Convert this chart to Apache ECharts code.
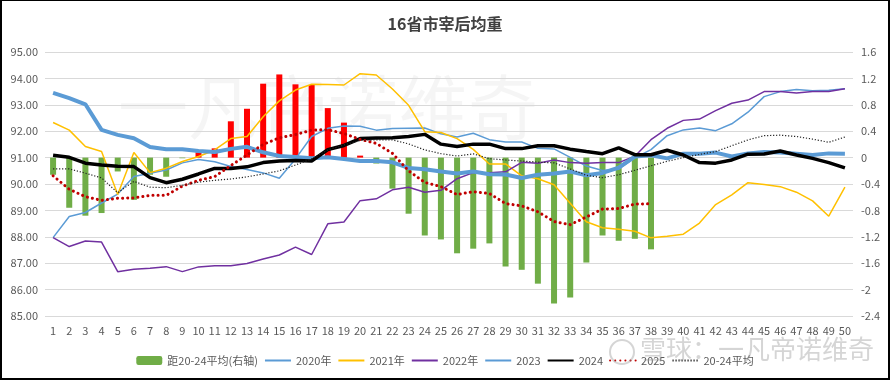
<!DOCTYPE html>
<html><head><meta charset="utf-8">
<script src="https://cdn.jsdelivr.net/npm/echarts@6/dist/echarts.min.js"></script>
<style>
html,body{margin:0;padding:0;background:#fff;}
#wrap{position:relative;width:890px;height:380px;}
#c{position:absolute;left:0;top:0;width:890px;height:380px;}
#frame{position:absolute;left:0;top:0;width:890px;height:380px;box-sizing:border-box;border:1px solid #000;border-left-width:2px;border-bottom-width:2px;border-right-width:2px;pointer-events:none;}
</style></head>
<body><div id="wrap"><div id="c"></div><div id="frame"></div></div>
<script>
const categories = ['1','2','3','4','5','6','7','8','9','10','11','12','13','14','15','16','17','18','19','20','21','22','23','24','25','26','27','28','29','30','31','32','33','34','35','36','37','38','39','40','41','42','43','44','45','46','47','48','49','50'];
const leftTicks = [85, 95, 1];
const rightTicks = [-2.4, 1.6, 0.4];

const diff2024 = [-0.26,-0.76,-0.88,-0.84,-0.21,-0.64,-0.26,-0.29,-0.01,0.08,0.14,0.55,0.74,1.12,1.26,1.11,1.10,0.75,0.53,0.03,-0.09,-0.47,-0.85,-1.18,-1.24,-1.45,-1.38,-1.30,-1.65,-1.70,-1.91,-2.21,-2.12,-1.59,-1.18,-1.26,-1.23,-1.39];
const y2020 = [87.97,88.77,88.92,89.28,89.62,90.28,90.41,90.53,90.80,90.93,90.84,90.66,90.55,90.42,90.22,90.95,91.80,92.11,92.20,92.19,92.04,92.10,92.11,92.12,91.90,91.78,91.92,91.68,91.59,91.59,91.35,91.33,91.01,90.68,90.51,90.56,90.99,91.30,91.83,92.05,92.12,92.02,92.28,92.72,93.31,93.50,93.58,93.53,93.55,93.61];
const y2021 = [92.33,92.04,91.42,91.23,89.60,91.19,90.43,90.60,90.85,91.04,91.29,91.72,91.80,92.55,93.15,93.56,93.78,93.77,93.75,94.18,94.13,93.60,92.98,91.98,91.95,91.72,91.31,90.76,90.76,90.31,90.20,89.97,89.27,88.57,88.34,88.29,88.21,87.96,88.02,88.10,88.52,89.22,89.59,90.05,89.98,89.90,89.69,89.36,88.78,89.88];
const y2022 = [87.97,87.63,87.84,87.80,86.68,86.77,86.81,86.87,86.68,86.86,86.90,86.90,86.99,87.16,87.31,87.61,87.33,88.49,88.56,89.37,89.44,89.78,89.88,89.69,89.76,90.20,90.43,90.43,90.46,90.82,90.79,90.91,90.81,90.79,90.81,90.81,91.05,91.68,92.11,92.41,92.46,92.78,93.06,93.18,93.50,93.50,93.45,93.50,93.50,93.61];
const y2023 = [93.45,93.25,93.02,92.05,91.86,91.73,91.40,91.32,91.32,91.25,91.21,91.33,91.41,91.20,91.06,91.02,90.98,91.01,90.95,90.87,90.87,90.82,90.61,90.56,90.47,90.40,90.47,90.37,90.36,90.23,90.35,90.40,90.47,90.33,90.42,90.62,91.04,91.09,90.97,91.15,91.15,91.19,91.04,91.16,91.21,91.19,91.15,91.10,91.16,91.15];
const y2024 = [91.09,91.01,90.79,90.72,90.67,90.66,90.24,90.05,90.18,90.38,90.59,90.59,90.65,90.81,90.87,90.89,90.87,91.30,91.46,91.72,91.74,91.75,91.80,91.88,91.51,91.42,91.51,91.51,91.34,91.34,91.45,91.45,91.32,91.23,91.15,91.37,91.11,91.11,91.28,91.10,90.81,90.79,90.91,91.13,91.14,91.25,91.10,90.97,90.81,90.61];
const y2025 = [90.31,89.80,89.52,89.38,89.46,89.47,89.57,89.57,89.92,90.14,90.28,90.70,91.10,91.50,91.75,91.87,92.04,92.06,91.91,91.69,91.54,91.16,90.50,90.06,89.90,89.60,89.71,89.64,89.26,89.17,88.95,88.58,88.46,88.75,89.05,89.07,89.24,89.25];
const avg2024 = [90.57,90.57,90.41,90.23,89.67,90.10,89.88,89.86,89.95,90.07,90.14,90.19,90.27,90.38,90.50,90.72,90.95,91.29,91.48,91.65,91.67,91.67,91.52,91.29,91.15,91.06,91.14,90.96,90.91,90.87,90.83,90.80,90.57,90.33,90.24,90.35,90.52,90.69,90.86,91.00,91.12,91.23,91.45,91.67,91.83,91.85,91.80,91.70,91.58,91.78];
const barName = '距20-24平均(右轴)';
const lineNames = ['2020年','2021年','2022年','2023','2024','2025','20-24平均'];

const FONT = '"Noto Sans CJK SC","Noto Sans",sans-serif';
const chart = echarts.init(document.getElementById('c'), null, {renderer:'canvas'});
function lineSeries(name, data, color, width, type, cap){
  return {name, type:'line', data, yAxisIndex:0, symbol:'none', showSymbol:false,
    lineStyle:{color, width, type: type || 'solid', cap: cap || 'butt'}, itemStyle:{color}, z:3};
}
chart.setOption({
  animation:false,
  backgroundColor:'#fff',
  title:{text:'16省市宰后均重', left:'center', top:11,
    textStyle:{fontFamily:FONT, fontSize:16, fontWeight:'bold', color:'#404040'}},
  grid:{left:45, right:37, top:52, bottom:64},
  legend:{bottom:9, left:'center', itemWidth:26, itemHeight:9, itemGap:6,
    textStyle:{fontFamily:FONT, fontSize:11, color:'#595959'},
    data:[{name:barName}].concat(lineNames.map(n => ({name:n, itemStyle:{opacity:0}})))},
  xAxis:{type:'category', data:categories, boundaryGap:true,
    axisTick:{show:false}, axisLine:{show:false},
    axisLabel:{fontFamily:FONT, fontSize:11, color:'#595959', margin:9, interval:0}},
  yAxis:[
    {type:'value', min:leftTicks[0], max:leftTicks[1], interval:leftTicks[2],
      axisLine:{show:false}, axisTick:{show:false},
      splitLine:{lineStyle:{color:'#d9d9d9', width:1}},
      axisLabel:{fontFamily:FONT, fontSize:11, color:'#595959', margin:7,
        formatter:v=>v.toFixed(2)}},
    {type:'value', min:rightTicks[0], max:rightTicks[1], interval:rightTicks[2],
      axisLine:{show:false}, axisTick:{show:false}, splitLine:{show:false},
      axisLabel:{fontFamily:FONT, fontSize:11, color:'#595959', margin:8,
        formatter:v=>String(Math.round(v*10)/10)}}
  ],
  graphic:[
    {type:'text', left:118, top:72, z:0, silent:true,
      style:{text:'一凡帝诺维奇', fontFamily:FONT, fontSize:70, fill:'rgba(0,0,0,0.04)'}},
    {type:'circle', shape:{cx:622, cy:352, r:12}, z:100, silent:true,
      style:{fill:'none', stroke:'rgba(150,150,150,0.4)', lineWidth:2}},
    {type:'text', left:640, top:336, z:100, silent:true,
      style:{text:'雪球：一凡帝诺维奇', fontFamily:FONT, fontSize:26, fill:'rgba(150,150,150,0.4)'}}
  ],
  series:[
    {name:barName, type:'bar', yAxisIndex:1, barWidth:6, z:2,
      itemStyle:{color:'#70AD47'},
      data: diff2024.map(v => v > 0 ? {value:v, itemStyle:{color:'#FF0000'}} : v)},
    lineSeries(lineNames[0], y2020, '#5B9BD5', 1.5),
    lineSeries(lineNames[1], y2021, '#FFC000', 1.5),
    lineSeries(lineNames[2], y2022, '#7030A0', 1.5),
    lineSeries(lineNames[3], y2023, '#5B9BD5', 4),
    lineSeries(lineNames[4], y2024, '#000000', 3.5),
    lineSeries(lineNames[5], y2025, '#C00000', 3, [0.1, 5], 'round'),
    lineSeries(lineNames[6], avg2024, '#222222', 1.2, [1.2, 1.8])
  ]
});
</script></body></html>
